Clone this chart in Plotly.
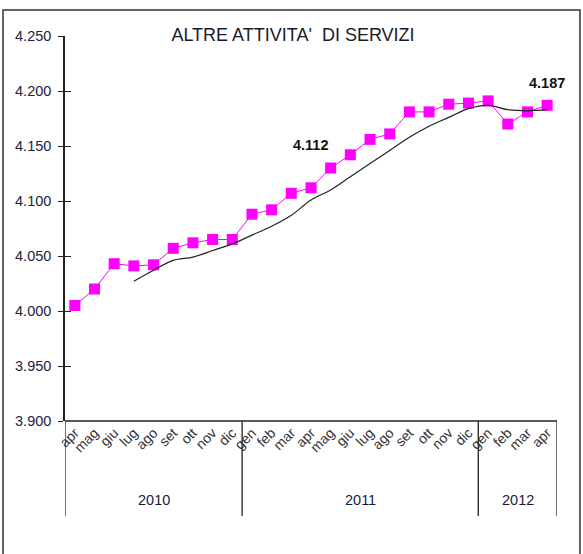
import plotly.graph_objects as go

years = ["2010"] * 9 + ["2011"] * 12 + ["2012"] * 4
months = ["apr", "mag", "giu", "lug", "ago", "set", "ott", "nov", "dic",
          "gen", "feb", "mar", "apr", "mag", "giu", "lug", "ago", "set", "ott", "nov", "dic",
          "gen", "feb", "mar", "apr"]
occupati = [4005, 4020, 4043, 4041, 4042, 4057, 4062, 4065, 4065,
            4088, 4092, 4107, 4112, 4130, 4142, 4156, 4161, 4181, 4181, 4188, 4189,
            4191, 4170, 4181, 4187]
trend = [None, None, None, 4027, 4037, 4046, 4049, 4055, 4061,
         4069, 4077, 4087, 4101, 4110, 4122, 4134, 4146, 4158, 4168, 4176, 4184,
         4187, 4183, 4182, 4183]
labelled = [12, 24]
label_shift = [43, 22]
title = "ALTRE ATTIVITA'\u00a0 DI SERVIZI"

idx = list(range(len(months)))
FONT = "Arial, Liberation Sans, sans-serif"

fig = go.Figure()
fig.add_trace(go.Scatter(x=idx, y=occupati, mode="lines+markers",
                         line=dict(color="#FF00FF", width=1),
                         marker=dict(symbol="square", size=11, color="#FF00FF"),
                         showlegend=False, hoverinfo="skip"))
fig.add_trace(go.Scatter(x=idx, y=trend, mode="lines",
                         line=dict(color="#222222", width=1.2, shape="spline"),
                         showlegend=False, hoverinfo="skip"))

for i, s in zip(labelled, label_shift):
    fig.add_annotation(x=i, y=occupati[i], text="<b>" + f"{occupati[i]:,}".replace(",", ".") + "</b>",
                       showarrow=False, yshift=s,
                       font=dict(family=FONT, size=14.5, color="#111111"))

# group dividers and year labels
bounds = [-0.5]
groups = []
for i, y in enumerate(years):
    if i == 0 or y != years[i - 1]:
        groups.append([y, i, i])
    else:
        groups[-1][2] = i
for g in groups:
    bounds.append(g[2] + 0.5)
for b in bounds:
    fig.add_shape(type="line", xref="x", yref="paper", x0=b, x1=b, y0=0, y1=-0.247,
                  line=dict(color="#222222", width=1.3))
# horizontal category axis line
fig.add_shape(type="line", xref="x", yref="paper", x0=bounds[0], x1=bounds[-1], y0=0, y1=0,
              line=dict(color="#222222", width=1.5))
for y, a, b in groups:
    fig.add_annotation(x=(a + b) / 2, y=-0.205, xref="x", yref="paper", text=y,
                       showarrow=False, yanchor="middle",
                       font=dict(family=FONT, size=14.5, color="#1a1a3a"))

# outer frame
fig.add_shape(type="rect", xref="paper", yref="paper", x0=-0.126, x1=1.0467, y0=-0.6, y1=1.0675,
              line=dict(color="#333333", width=1.5), layer="below")

fig.update_layout(
    width=583, height=554,
    margin=dict(l=65, r=26, t=36, b=133),
    paper_bgcolor="white", plot_bgcolor="white",
    separators=",.",
    title=dict(text=title, x=293 / 583, xref="container", y=1 - 35 / 554, yref="container",
               xanchor="center", yanchor="middle",
               font=dict(family=FONT, size=18, color="#1a1a2a")),
    xaxis=dict(range=[-0.5, 24.5], tickvals=idx, ticktext=months, tickangle=-45,
               showgrid=False, zeroline=False, showline=False,
               ticks="", tickfont=dict(family=FONT, size=14, color="#333333")),
    yaxis=dict(range=[3900, 4250], dtick=50, tickformat=",d", showgrid=False, zeroline=False,
               showline=True, linecolor="#222222", linewidth=1.5,
               ticks="outside", ticklen=5, tickwidth=1.3, tickcolor="#222222",
               ticklabelstandoff=4,
               tickfont=dict(family=FONT, size=14.5, color="#22223a")),
    yaxis2=dict(range=[3900, 4250], dtick=50, overlaying="y", side="left", showgrid=False,
                zeroline=False, showline=False, showticklabels=False,
                ticks="inside", ticklen=6, tickwidth=1.3, tickcolor="#222222"),
)
fig.add_trace(go.Scatter(x=[None], y=[None], yaxis="y2", showlegend=False, hoverinfo="skip"))

fig.write_html("out.html", config={"displayModeBar": False},
               post_script="document.documentElement.style.overflow='hidden';"
                           "document.body.style.margin='0';document.body.style.overflow='hidden';")
